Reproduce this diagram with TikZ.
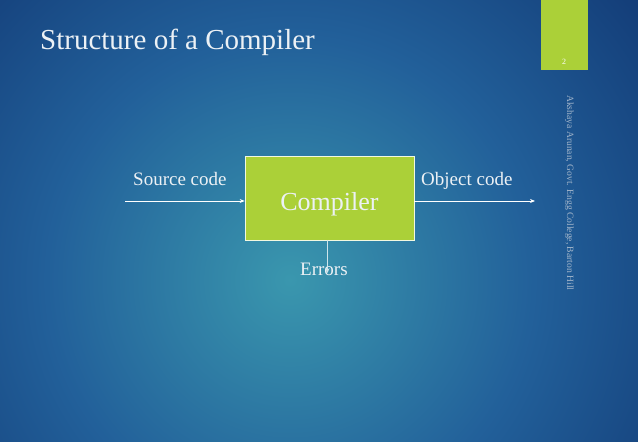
\documentclass[tikz,border=0pt]{standalone}
\usepackage{fontspec}
\setmainfont{Liberation Serif}
\usetikzlibrary{arrows.meta}
\definecolor{bgcenter}{HTML}{3A97AE}
\definecolor{bgmid}{HTML}{22609A}
\definecolor{bgedge}{HTML}{0A2763}
\definecolor{slidegreen}{HTML}{ABD038}
\definecolor{titlecol}{HTML}{ECF1F5}
\definecolor{footcol}{HTML}{A3B6CB}
\pgfdeclareradialshading{slidebg}{\pgfpoint{0bp}{0bp}}{%
  color(0bp)=(bgcenter); color(8bp)=(bgmid); color(19bp)=(bgedge); color(50bp)=(bgedge)}
\begin{document}
\begin{tikzpicture}[x=1pt,y=-1pt,
  lbl/.style={text=titlecol,font=\fontsize{19}{19}\selectfont,inner sep=0pt,anchor=base west},
  conn/.style={draw=white,line width=0.8pt,-{Stealth[length=5pt,width=4pt]}}]
\useasboundingbox (0,0) rectangle (638,442);
\begin{scope}
\clip (0,0) rectangle (638,442);
\fill[bgedge] (0,0) rectangle (638,442);
\shade[shading=slidebg] (290-760,280-760) rectangle (290+760,280+760);
\end{scope}
% title
\node[text=titlecol,font=\fontsize{29}{29}\selectfont,inner sep=0pt,anchor=base west] (title) at (40,49) {Structure of a Compiler};
% page tab
\fill[slidegreen] (541,0) rectangle (588,70);
\node[text=white,font=\fontsize{8}{8}\selectfont,inner sep=0pt,anchor=base] (pnum) at (564,64) {2};
% footer
\node[text=footcol,font=\fontsize{9.6}{9.6}\selectfont,inner sep=0pt,rotate=-90,anchor=north west] (foot) at (574,95) {Akshaya Arunan, Govt. Engg College, Barton Hill};
% box
\node[fill=slidegreen,draw=white!85!slidegreen,line width=0.6pt,minimum width=169pt,minimum height=84pt,inner sep=0pt] (comp) at (329.5,198) {};
\node[text=titlecol,font=\fontsize{26}{26}\selectfont,inner sep=0pt,anchor=base] (comptext) at (329.5,210) {Compiler};
% labels
\node[lbl] (src) at (133,185) {Source code};
\node[lbl] (obj) at (421,185) {Object code};
\node[lbl] (err) at (300,275) {Errors};
% connectors
\coordinate (inStart) at (125,201);
\coordinate (outEnd) at (535,201);
\coordinate (errEnd) at (327.5,273);
\draw[conn] (inStart) -- (inStart -| comp.west);
\draw[conn] (outEnd -| comp.east) -- (outEnd);
\draw[conn,draw=white!75!bgcenter] (comp.south -| errEnd) -- (errEnd);
\end{tikzpicture}
\end{document}
